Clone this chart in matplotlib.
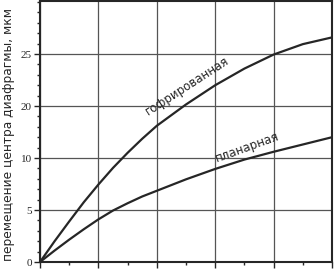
import matplotlib
matplotlib.use("Agg")
import matplotlib.pyplot as plt
from matplotlib.ticker import MultipleLocator

# readings from the picture (grid units: x 0..5, y grid step 5)
x_pts = [0, 0.25, 0.5, 0.75, 1, 1.25, 1.5, 1.75, 2, 2.5, 3, 3.5, 4, 4.5, 5]
y_gofr = [0, 2.0, 3.9, 5.75, 7.45, 9.05, 10.5, 11.85, 13.1, 15.15, 17.0, 18.6, 19.95, 20.95, 21.6]
y_plan = [0, 1.1, 2.15, 3.15, 4.1, 4.95, 5.65, 6.3, 6.85, 7.95, 8.95, 9.85, 10.6, 11.3, 12.0]

y_ticks = [0, 5, 10, 15, 20]
y_ticklabels = ['0', '5', '10', '20', '25']   # as printed in the original
x_ticks = [0, 1, 2, 3, 4, 5]

ink = '#262626'

fig = plt.figure(figsize=(3.34, 2.72), dpi=100)
ax = fig.add_axes([40 / 334, 10 / 272, 292 / 334, 261 / 272])

ax.plot(x_pts, y_gofr, color=ink, lw=1.6, solid_capstyle='round', solid_joinstyle='round')
ax.plot(x_pts, y_plan, color=ink, lw=1.6, solid_capstyle='round', solid_joinstyle='round')

ax.set_xlim(0, 5)
ax.set_ylim(0, 25.1)
ax.set_xticks(x_ticks)
ax.set_xticklabels([])
ax.xaxis.set_minor_locator(MultipleLocator(0.5))
ax.set_yticks(y_ticks)
ax.set_yticklabels(y_ticklabels, family='Liberation Serif', fontsize=8, color=ink)
ax.yaxis.set_minor_locator(MultipleLocator(1))

ax.grid(True, which='major', color='#555555', lw=0.9)
ax.tick_params(axis='both', which='major', direction='out', length=4, width=1, color=ink, pad=2)
ax.tick_params(axis='both', which='minor', direction='out', length=2.5, width=1, color=ink)
for sp in ax.spines.values():
    sp.set_color(ink)
    sp.set_linewidth(1.5)

ax.text(2.52, 16.9, 'гофрированная', rotation=33, ha='center', va='center',
        fontsize=8.5, color=ink)
ax.text(3.55, 11.0, 'планарная', rotation=20, ha='center', va='center',
        fontsize=8.5, color=ink)

fig.text(0.026, 0.505, 'перемещение центра диафрагмы, мкм', rotation=90,
         ha='center', va='center', fontsize=8.8, color=ink)

fig.savefig('out.png', dpi=100)
